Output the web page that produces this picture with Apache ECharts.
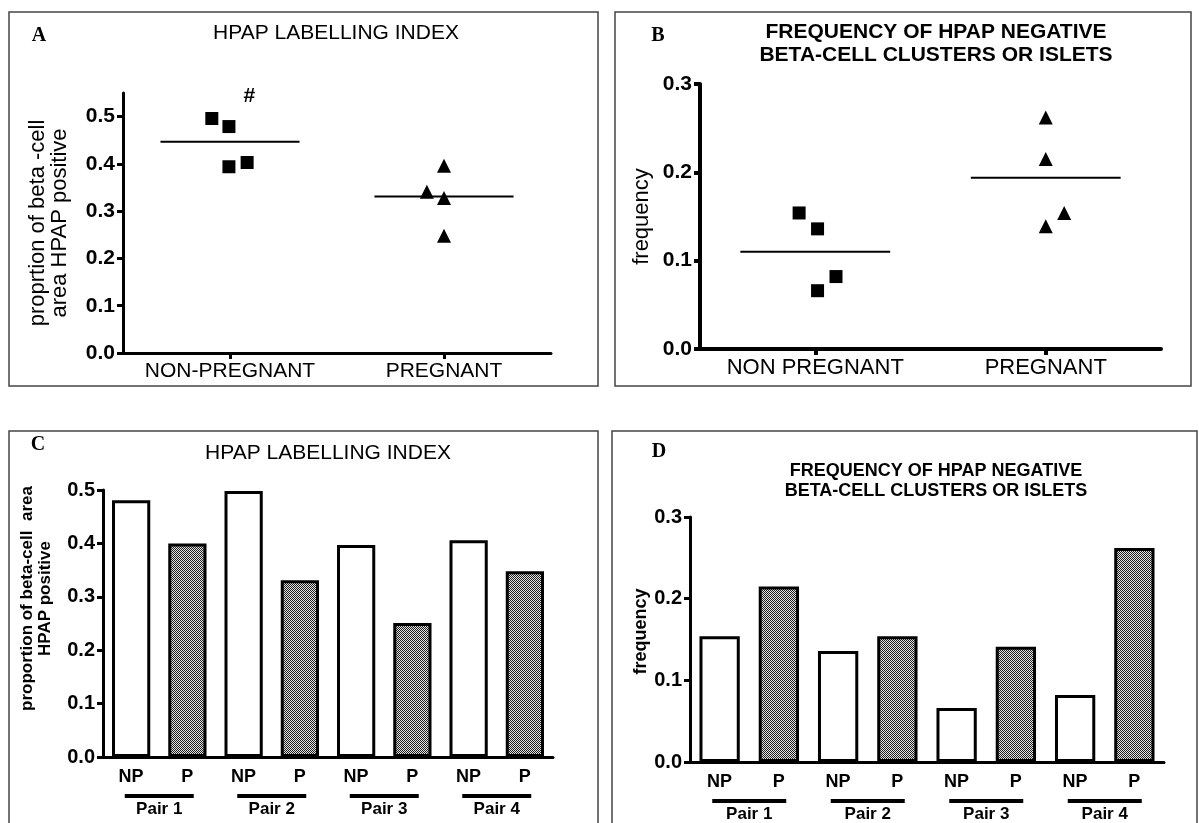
<!DOCTYPE html>
<html>
<head>
<meta charset="utf-8">
<script src="https://cdn.jsdelivr.net/npm/echarts@6/dist/echarts.min.js"></script>
<style>
  html, body { margin: 0; padding: 0; background: #fff; }
  #chart { width: 1199px; height: 823px; }
</style>
</head>
<body>
<div id="chart"></div>
<script>
// Panel A: HPAP labelling index, one point per animal
const groupNamesA = ['NON-PREGNANT', 'PREGNANT'];
const labelIndexNP = [0.496, 0.479, 0.394, 0.403];
const labelIndexNPx = [0.83, 0.99, 0.99, 1.16];
const labelIndexP = [0.396, 0.341, 0.328, 0.248];
const labelIndexPx = [3.0, 2.84, 3.0, 3.0];
const labelIndexMeans = [0.447, 0.331];
const yTicksA = [0, 0.1, 0.2, 0.3, 0.4, 0.5];

// Panel B: frequency of HPAP negative clusters
const groupNamesB = ['NON PREGNANT', 'PREGNANT'];
const negFreqNP = [0.154, 0.136, 0.082, 0.066];
const negFreqNPx = [0.86, 1.02, 1.18, 1.02];
const negFreqP = [0.262, 0.215, 0.154, 0.139];
const negFreqPx = [3.0, 3.0, 3.16, 3.0];
const negFreqMeans = [0.110, 0.194];
const yTicksB = [0, 0.1, 0.2, 0.3];

// Panels C and D: paired animals
const pairNames = ['Pair 1', 'Pair 2', 'Pair 3', 'Pair 4'];
const pairMembers = ['NP', 'P'];
const pairLabelNP = [0.481, 0.498, 0.397, 0.406];
const pairLabelP = [0.400, 0.331, 0.251, 0.348];
const pairFreqNP = [0.154, 0.136, 0.066, 0.082];
const pairFreqP = [0.215, 0.154, 0.141, 0.262];
const yTicksC = [0, 0.1, 0.2, 0.3, 0.4, 0.5];
const yTicksD = [0, 0.1, 0.2, 0.3];

const SANS = 'Liberation Sans';
const SERIF = 'Liberation Serif';

// checkered fill used for the pregnant bars
const pc = document.createElement('canvas');
pc.width = 2; pc.height = 2;
const pctx = pc.getContext('2d');
pctx.fillStyle = '#e4e4e4';
pctx.fillRect(0, 0, 2, 2);
pctx.fillStyle = '#1e1e1e';
pctx.fillRect(0, 0, 1, 1);
pctx.fillRect(1, 1, 1, 1);
const checker = { image: pc, repeat: 'repeat' };

const barCats = pairNames.flatMap(() => pairMembers);
function barData(np, p) {
  return np.flatMap((v, i) => [
    { value: v, itemStyle: { color: '#fff' } },
    { value: p[i], itemStyle: { color: checker } }
  ]);
}
function zip(xs, ys) {
  return xs.map((x, i) => [x, ys[i]]);
}

function valueYAxis(grid, max, ticks, name, nameGap, nameFont, labelSize, lw, namePad) {
  return {
    type: 'value', gridIndex: grid, min: 0, max: max,
    name: name, nameLocation: 'middle', nameGap: nameGap, nameRotate: 90,
    nameTextStyle: Object.assign({ color: '#000', fontFamily: SANS, padding: namePad || 0 }, nameFont),
    splitLine: { show: false },
    axisLine: { show: true, lineStyle: { color: '#000', width: lw } },
    axisTick: { show: true, length: 6, customValues: ticks, lineStyle: { color: '#000', width: lw } },
    axisLabel: {
      customValues: ticks, margin: 8, color: '#000', fontFamily: SANS,
      fontWeight: 'bold', fontSize: labelSize,
      formatter: v => v.toFixed(1)
    }
  };
}

function groupXAxis(grid, names, size, lw) {
  return {
    type: 'value', gridIndex: grid, min: 0, max: 4,
    splitLine: { show: false },
    axisLine: { lineStyle: { color: '#000', width: lw } },
    axisTick: { length: 6, customValues: [1, 3], lineStyle: { color: '#000', width: lw } },
    axisLabel: {
      customValues: [1, 3], margin: 8, color: '#000', fontFamily: SANS, fontSize: size,
      formatter: v => names[Math.round((v - 1) / 2)]
    }
  };
}

function memberXAxis(grid) {
  return {
    type: 'category', gridIndex: grid, data: barCats,
    axisLine: { lineStyle: { color: '#000', width: 3 } },
    axisTick: { alignWithLabel: true, length: 6, lineStyle: { color: '#000', width: 3 } },
    axisLabel: { margin: 11, color: '#000', fontFamily: SANS, fontWeight: 'bold', fontSize: 18 }
  };
}

function pairXAxis(grid, lineW) {
  return {
    type: 'category', gridIndex: grid, data: pairNames, position: 'bottom',
    axisLine: { show: false }, axisTick: { show: false },
    axisLabel: {
      margin: 36, interval: 0,
      formatter: v => '{u|}\n{t|' + v + '}',
      rich: {
        u: { width: lineW, height: 4, lineHeight: 6, backgroundColor: '#000' },
        t: { color: '#000', fontFamily: SANS, fontWeight: 'bold', fontSize: 17, lineHeight: 20 }
      }
    }
  };
}

function meanLine(xi, yi, cx, m) {
  return {
    type: 'line', xAxisIndex: xi, yAxisIndex: yi, symbol: 'none', silent: true,
    lineStyle: { color: '#000', width: 2 },
    data: [[cx - 0.65, m], [cx + 0.65, m]]
  };
}

function pointSeries(xi, yi, xs, ys, symbol, size) {
  return {
    type: 'scatter', xAxisIndex: xi, yAxisIndex: yi, symbol: symbol, symbolSize: size,
    itemStyle: { color: '#000', opacity: 1 }, data: zip(xs, ys)
  };
}

const chart = echarts.init(document.getElementById('chart'));

const option = {
  animation: false,
  textStyle: { fontFamily: SANS },
  grid: [
    { left: 123, top: 93, width: 428, height: 260 },
    { left: 700, top: 84, width: 461, height: 265 },
    { left: 103, top: 490, width: 450, height: 267 },
    { left: 690, top: 517, width: 474, height: 245 }
  ],
  xAxis: [
    groupXAxis(0, groupNamesA, 21, 3),
    groupXAxis(1, groupNamesB, 22, 4),
    memberXAxis(2),
    memberXAxis(3),
    pairXAxis(2, 69),
    pairXAxis(3, 74)
  ],
  yAxis: [
    valueYAxis(0, 0.55, yTicksA, 'proprtion of beta -cell\narea HPAP positive', 52,
      { fontSize: 22, lineHeight: 22 }, 21, 3),
    valueYAxis(1, 0.3, yTicksB, 'frequency', 47, { fontSize: 22 }, 21, 4),
    valueYAxis(2, 0.5, yTicksC, 'proportion of beta-cell  area\nHPAP positive', 49,
      { fontSize: 17, fontWeight: 'bold', lineHeight: 18 }, 20, 3, [0, 0, 0, 50]),
    valueYAxis(3, 0.3, yTicksD, 'frequency', 33, { fontSize: 18, fontWeight: 'bold' }, 20, 3, [0, 0, 0, 16])
  ],
  series: [
    pointSeries(0, 0, labelIndexNPx, labelIndexNP, 'rect', 13),
    pointSeries(0, 0, labelIndexPx, labelIndexP, 'triangle', 14),
    meanLine(0, 0, 1, labelIndexMeans[0]),
    meanLine(0, 0, 3, labelIndexMeans[1]),
    pointSeries(1, 1, negFreqNPx, negFreqNP, 'rect', 13),
    pointSeries(1, 1, negFreqPx, negFreqP, 'triangle', 14),
    meanLine(1, 1, 1, negFreqMeans[0]),
    meanLine(1, 1, 3, negFreqMeans[1]),
    {
      type: 'bar', xAxisIndex: 2, yAxisIndex: 2, barWidth: '68%',
      itemStyle: { borderColor: '#000', borderWidth: 3 },
      data: barData(pairLabelNP, pairLabelP)
    },
    {
      type: 'bar', xAxisIndex: 3, yAxisIndex: 3, barWidth: '68%',
      itemStyle: { borderColor: '#000', borderWidth: 3 },
      data: barData(pairFreqNP, pairFreqP)
    }
  ]
};
chart.setOption(option);

// panel frames, letters and titles
const hashPos = chart.convertToPixel({ gridIndex: 0 }, [1.18, 0.545]);
function txt(x, y, text, size, weight, family, lh) {
  return {
    type: 'text', x: x, y: y, silent: true,
    style: {
      text: text, fill: '#000', textAlign: 'center', textVerticalAlign: 'top',
      fontSize: size, fontWeight: weight, fontFamily: family, lineHeight: lh || size
    }
  };
}
function frame(x, y, w, h) {
  return {
    type: 'rect', silent: true, shape: { x: x, y: y, width: w, height: h },
    style: { fill: 'none', stroke: '#444', lineWidth: 1.5 }
  };
}
chart.setOption({
  graphic: [
    frame(9, 12, 589, 374),
    frame(615, 12, 576, 374),
    frame(9, 431, 589, 400),
    frame(612, 431, 585, 400),
    txt(39, 26, 'A', 20, 'bold', SERIF),
    txt(658, 26, 'B', 20, 'bold', SERIF),
    txt(38, 435, 'C', 20, 'bold', SERIF),
    txt(659, 442, 'D', 20, 'bold', SERIF),
    txt(336, 23, 'HPAP LABELLING INDEX', 21, 'normal', SANS),
    txt(936, 21, 'FREQUENCY OF HPAP NEGATIVE\nBETA-CELL CLUSTERS OR ISLETS', 21, 'bold', SANS, 23),
    txt(328, 443, 'HPAP LABELLING INDEX', 21, 'normal', SANS),
    txt(936, 461, 'FREQUENCY OF HPAP NEGATIVE\nBETA-CELL CLUSTERS OR ISLETS', 18, 'bold', SANS, 20),
    txt(hashPos[0], hashPos[1] - 10, '#', 21, 'bold', SANS)
  ]
});
</script>
</body>
</html>
